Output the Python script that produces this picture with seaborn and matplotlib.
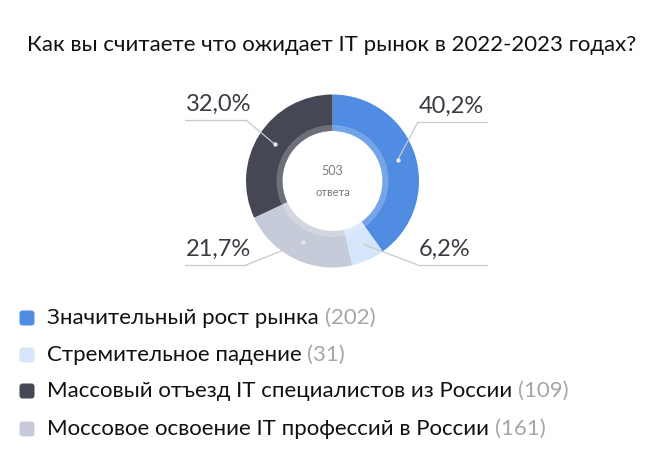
import numpy as np
import matplotlib
matplotlib.use('Agg')
import matplotlib.pyplot as plt
import seaborn as sns
from matplotlib.patches import FancyBboxPatch

sns.set_theme(style='white')
plt.rcParams['font.family'] = ['Lato', 'DejaVu Sans']

# data
categories = ['Значительный рост рынка', 'Стремительное падение',
              'Массовый отъезд IT специалистов из России',
              'Моссовое освоение IT профессий в России']
counts = [202, 31, 109, 161]
colors = ['#4F8CE2', '#D5E5FA', '#454755', '#C5CBD8']
# ring as drawn (clockwise from top)
pie_pct = [40.2, 6.2, 21.7, 32.0]
pie_labels = ['40,2%', '6,2%', '21,7%', '32,0%']
pie_colors = ['#4F8CE2', '#D5E5FA', '#C5CBD8', '#454755']
total = 503
title = 'Как вы считаете что ожидает IT рынок в 2022-2023 годах?'

W, H = 664, 476
fig = plt.figure(figsize=(W / 100, H / 100), dpi=100)
ax = fig.add_axes([0, 0, 1, 1])

cx, cy = 332.5, H - 181
r_out, r_in = 86.5, 50

wedges, _ = ax.pie(pie_pct, colors=pie_colors, startangle=90, counterclock=False,
                   radius=r_out, center=(cx, cy),
                   wedgeprops=dict(width=r_out - r_in, linewidth=0))
# light inner band
ax.pie(pie_pct, colors=['white'] * 4, startangle=90, counterclock=False,
       radius=r_in + 6, center=(cx, cy),
       wedgeprops=dict(width=6, linewidth=0, alpha=0.22))
ax.set_xlim(0, W)
ax.set_ylim(0, H)
ax.set_aspect('equal')
ax.axis('off')

ax.text(cx, cy + 10, str(total), ha='center', va='center', fontsize=9, color='#7A7A7A')
ax.text(cx, cy - 11, 'ответа', ha='center', va='center', fontsize=8, color='#7A7A7A')

# leader lines + labels
line_y = [H - 122, H - 265, H - 265, H - 120]
r_dot = (r_out + r_in) / 2
for w, lab, ly in zip(wedges, pie_labels, line_y):
    mid = np.deg2rad((w.theta1 + w.theta2) / 2)
    dx, dy = cx + r_dot * np.cos(mid), cy + r_dot * np.sin(mid)
    if np.cos(mid) > 0:
        x0, x1 = 418, 487
        kx = x0
    else:
        x0, x1 = 185, 246
        kx = x1
    ax.plot([dx, kx], [dy, ly], color='#C9C9C9', lw=0.9)
    ax.plot([x0, x1], [ly, ly], color='#C9C9C9', lw=0.9)
    ax.scatter([dx], [dy], s=10, color='#E6E6E6', zorder=5, linewidths=0)
    ax.text(x0 + 1, ly + 5, lab, ha='left', va='bottom',
            fontsize=17, color='#3A3B46')

fig.text(0.5, 1 - 45 / H, title, ha='center', va='center', fontsize=16, color='#111111')

# legend
row_y = [318, 355, 391, 429]
for i, (cat, n) in enumerate(zip(categories, counts)):
    y = H - row_y[i]
    ax.add_patch(FancyBboxPatch((19.5, y - 7.5), 15, 15,
                                boxstyle='round,pad=0,rounding_size=3',
                                facecolor=colors[i], edgecolor='none'))
    t = ax.text(47, y, cat + ' ', ha='left', va='center', fontsize=16, color='#111111')
    fig.canvas.draw()
    bb = t.get_window_extent()
    ax.text(bb.x1, y, f'({n})', ha='left', va='center', fontsize=16,
            color='#A6A6A6')

fig.savefig('out.png', dpi=100)
